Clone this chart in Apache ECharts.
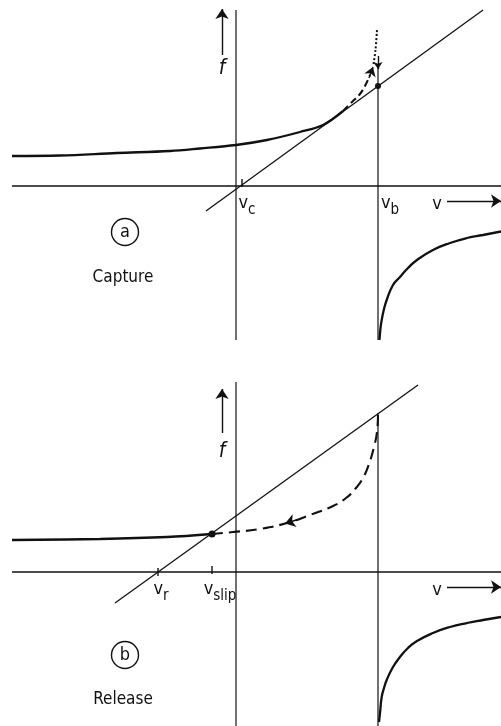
<!DOCTYPE html>
<html>
<head>
<meta charset="utf-8">
<title>Capture / Release</title>
<script src="https://cdn.jsdelivr.net/npm/echarts@6/dist/echarts.min.js"></script>
<style>
  html, body { margin: 0; padding: 0; background: #fff; }
  #chart { width: 501px; height: 726px; }
</style>
</head>
<body>
<div id="chart"></div>
<script>
// both panels share one v scale; f is measured up from each panel's v axis
const vSpan = [-22.4, 26.5];
const fSpanA = [-15.4, 17.6];
const fSpanB = [-15.4, 19.0];
const vB = 14.2;          // v_b, the asymptote
const vbTopA = 11.9;
const vbTopB = 15.9;
const vC = 0.4;
const vR = -7.8;
const vSlip = -2.4;

// (a) capture
const lineA = [[-3.0, -2.5], [24.7, 17.6]];
const captureSolid = [[-22.4, 3.0], [-17.6, 3.05], [-11.9, 3.3], [-6.6, 3.5], [-3.6, 3.75],
  [0, 4.1], [3.1, 4.6], [6.4, 5.4], [8.7, 6.1], [10.7, 7.5]];
const captureDashed = [[10.7, 7.5], [11.6, 8.4], [12.4, 9.2], [13.0, 10.2], [13.4, 11.1]];
const captureDotted = [[13.75, 12.2], [13.95, 13.6], [14.1, 15.6]];
const branchA = [[14.35, -15.4], [14.45, -14.2], [14.57, -13.4], [14.8, -12.3], [15.07, -11.4],
  [15.7, -9.9], [16.4, -9.1], [17.2, -8.2], [18.1, -7.4], [19.7, -6.4], [21.4, -5.7],
  [23.1, -5.2], [24.7, -4.9], [26.5, -4.55]];
const dotA = [[14.2, 10.0]];

// (b) release
const lineB = [[-12.1, -3.1], [18.2, 18.7]];
const releaseSolid = [[-22.4, 3.2], [-13.6, 3.3], [-6.9, 3.5], [-2.4, 3.8]];
const releaseDashed = [[-2.4, 3.8], [-0.3, 4.0], [2.4, 4.3], [5.1, 4.9], [7.4, 5.7], [9.7, 6.6],
  [11.0, 7.4], [12.0, 8.4], [12.7, 9.4], [13.3, 10.8], [13.8, 12.5], [14.1, 14.0], [14.2, 15.7]];
const branchB = [[14.3, -15.0], [14.4, -14.1], [14.57, -12.5], [14.8, -11.6], [15.07, -10.8],
  [15.7, -9.5], [16.4, -8.5], [17.2, -7.6], [18.1, -6.9], [19.7, -6.1], [21.4, -5.5],
  [23.1, -5.1], [24.7, -4.8], [26.5, -4.5]];
const dotB = [[vSlip, 3.8]];

const INK = '#111';
const FONT = '"DejaVu Sans Condensed", "Liberation Sans Narrow", "DejaVu Sans", sans-serif';

function seg(g, data, width, type, smooth) {
  return {
    type: 'line', xAxisIndex: g, yAxisIndex: g, data: data, showSymbol: false,
    smooth: smooth || false, clip: false, silent: true,
    lineStyle: { color: INK, width: width, type: type || 'solid' }
  };
}

function arrow(g, from, to, size) {
  return {
    type: 'lines', coordinateSystem: 'cartesian2d', xAxisIndex: g, yAxisIndex: g,
    symbol: ['none', 'arrow'], symbolSize: [0, size], silent: true,
    lineStyle: { color: INK, width: 1.4, opacity: 1, curveness: 0 },
    data: [{ coords: [from, to] }]
  };
}

function dots(g, data, size) {
  return { type: 'scatter', xAxisIndex: g, yAxisIndex: g, data: data, symbolSize: size,
    silent: true, itemStyle: { color: INK, opacity: 1 } };
}

function ticks(g, data) {
  return { type: 'scatter', xAxisIndex: g, yAxisIndex: g, data: data, symbol: 'rect',
    symbolSize: [1.4, 8], silent: true, itemStyle: { color: INK, opacity: 1 } };
}

const rich = {
  f: { fontFamily: FONT, fontSize: 21, fontStyle: 'italic', color: INK },
  v: { fontFamily: FONT, fontSize: 18, color: INK, verticalAlign: 'top' },
  s: { fontFamily: FONT, fontSize: 15, color: INK, verticalAlign: 'bottom', padding: [8, 0, 0, 0] },
  w: { fontFamily: FONT, fontSize: 17, color: INK }
};

function text(g, at, fmt) {
  return { type: 'scatter', xAxisIndex: g, yAxisIndex: g, data: [at], symbolSize: 1, silent: true,
    itemStyle: { color: 'rgba(0,0,0,0)', opacity: 1 },
    label: { show: true, position: 'inside', formatter: fmt, rich: rich, opacity: 1 } };
}

function badge(g, at, letter) {
  return { type: 'scatter', xAxisIndex: g, yAxisIndex: g, data: [at], symbolSize: 27, silent: true,
    itemStyle: { color: '#fff', borderColor: INK, borderWidth: 1.4, opacity: 1 },
    label: { show: true, position: 'inside', formatter: letter, color: INK,
      fontFamily: FONT, fontSize: 18, padding: [0, 0, 2, 0] } };
}

const series = [
  // (a)
  seg(0, [[vSpan[0], 0], [vSpan[1], 0]], 1.5),
  seg(0, [[0, fSpanA[1]], [0, fSpanA[0]]], 1.2),
  seg(0, [[vB, vbTopA], [vB, fSpanA[0]]], 1.2),
  seg(0, lineA, 1.3),
  seg(0, captureSolid, 2.3, 'solid', 0.35),
  seg(0, captureDashed, 2.1, [7, 4], 0.35),
  seg(0, captureDotted, 2, [2, 2], 0.3),
  seg(0, branchA, 2.3, 'solid', 0.5),
  arrow(0, [13.3, 10.8], [13.7, 11.9], 9),
  arrow(0, [vB, 13.0], [vB, 11.7], 7),
  arrow(0, [-1.4, 13.1], [-1.4, 17.7], 10),
  arrow(0, [21.1, -1.5], [26.5, -1.5], 10),
  dots(0, dotA, 6),
  ticks(0, [[vC + 0.2, 0.3]]),
  text(0, [-1.4, 11.7], '{f|f}'),
  text(0, [1.1, -2.0], '{v|v}{s|c}'),
  text(0, [15.4, -2.0], '{v|v}{s|b}'),
  text(0, [20.1, -1.8], '{v|v}'),
  badge(0, [-11.1, -4.6], 'a'),
  text(0, [-11.3, -9.2], '{w|Capture}'),

  // (b)
  seg(1, [[vSpan[0], 0], [vSpan[1], 0]], 1.5),
  seg(1, [[0, fSpanB[1]], [0, fSpanB[0]]], 1.2),
  seg(1, [[vB, vbTopB], [vB, fSpanB[0]]], 1.2),
  seg(1, lineB, 1.3),
  seg(1, releaseSolid, 2.3, 'solid', 0.35),
  seg(1, releaseDashed, 2.1, [11, 6], 0.5),
  seg(1, branchB, 2.3, 'solid', 0.5),
  arrow(1, [6.2, 5.25], [4.9, 4.85], 10),
  arrow(1, [-1.4, 13.9], [-1.4, 18.3], 10),
  arrow(1, [21.1, -1.5], [26.5, -1.5], 10),
  dots(1, dotB, 7),
  ticks(1, [[vR, 0], [vSlip, 0.2]]),
  text(1, [-1.4, 12.0], '{f|f}'),
  text(1, [-7.5, -2.0], '{v|v}{s|r}'),
  text(1, [-1.6, -2.0], '{v|v}{s|slip}'),
  text(1, [20.1, -1.8], '{v|v}'),
  badge(1, [-11.1, -8.3], 'b'),
  text(1, [-11.3, -12.8], '{w|Release}')
];

const chart = echarts.init(document.getElementById('chart'));
chart.setOption({
  backgroundColor: '#fff',
  animation: false,
  grid: [
    { left: 0, top: 0, width: 501, height: 363 },
    { left: 0, top: 363, width: 501, height: 363 }
  ],
  xAxis: [
    { type: 'value', gridIndex: 0, min: -23.6, max: 26.5, show: false },
    { type: 'value', gridIndex: 1, min: -23.6, max: 26.5, show: false }
  ],
  yAxis: [
    { type: 'value', gridIndex: 0, min: -17.7, max: 18.6, show: false },
    { type: 'value', gridIndex: 1, min: -15.4, max: 20.9, show: false }
  ],
  series: series
});
</script>
</body>
</html>
